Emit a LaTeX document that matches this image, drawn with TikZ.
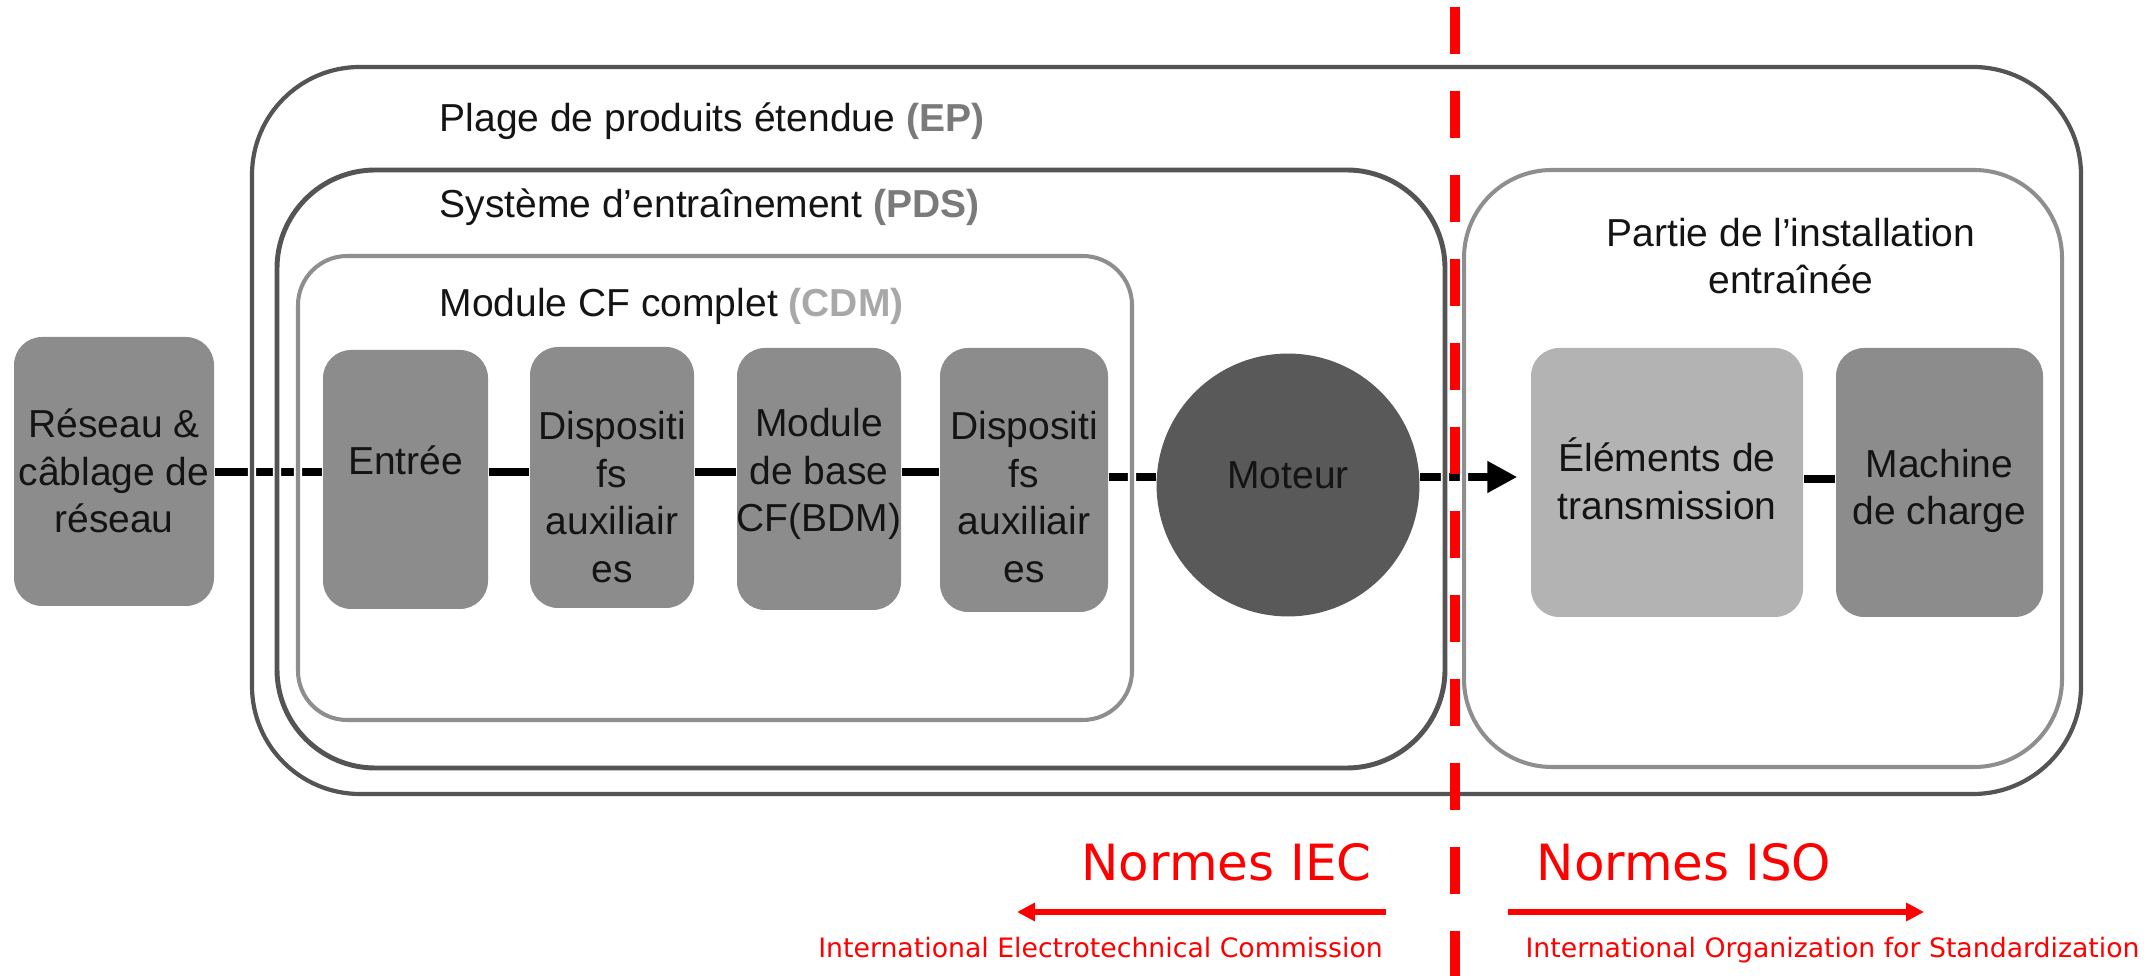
\documentclass[tikz,border=0pt]{standalone}
\usepackage{fontspec}
\setmainfont{Liberation Sans}
\newfontfamily\redfont{DejaVu Sans}
\usetikzlibrary{fit,arrows.meta}
\pgfdeclarelayer{lines}
\pgfdeclarelayer{frames}
\pgfdeclarelayer{fg}
\pgfsetlayers{lines,frames,main,fg}
\definecolor{boxgray}{HTML}{8C8C8C}
\definecolor{lightbox}{HTML}{B3B3B3}
\definecolor{motgray}{HTML}{595959}
\definecolor{darkframe}{HTML}{545454}
\definecolor{lightframe}{HTML}{8E8E8E}
\definecolor{tagdark}{HTML}{7A7A7A}
\definecolor{taglight}{HTML}{A8A8A8}
\definecolor{txtblack}{HTML}{141414}
\definecolor{redline}{HTML}{FF0000}
\begin{document}
\begin{tikzpicture}[x=0.1mm,y=-0.1mm,
  font=\fontsize{11.1pt}{13.5pt}\selectfont,
  box/.style={inner sep=0pt, fill=boxgray, rounded corners=8pt},
  txt/.style={inner sep=0pt, align=center, text=txtblack},
  lbl/.style={inner sep=0pt, anchor=base west, text=txtblack},
  frameD/.style={inner sep=0pt, draw=darkframe, line width=1.2pt, preaction={draw=white, line width=2.3pt}},
  frameL/.style={inner sep=0pt, draw=lightframe, line width=1.15pt, preaction={draw=white, line width=2.3pt}},
  conn/.style={line width=2.3pt, black},
  redtxt/.style={inner sep=0pt, anchor=base, text=redline},
  redarrow/.style={draw=redline, line width=1.7pt, -{Triangle[length=5.1pt,width=5pt]}}
]
\useasboundingbox (0,0) rectangle (2146,976);

% boxes
\node[box, fit={(14,337) (214,606)}] (res) {};
\node[box, fit={(323,350) (488,609)}] (ent) {};
\node[box, fit={(530,347) (694,608)}] (d1) {};
\node[box, fit={(737,348) (901,610)}] (bdm) {};
\node[box, fit={(940,348) (1108,612)}] (d2) {};
\node[circle, fill=motgray, inner sep=0pt, minimum size=74.8pt] (mot) at (1288,485) {};
\node[box, fill=lightbox, fit={(1531,348) (1803,617)}] (elem) {};
\node[box, fit={(1836,348) (2043,617)}] (mach) {};

% box texts
\node[txt] (res-t) at (114,471) {Réseau \&\\câblage de\\réseau};
\node[txt] (ent-t) at (405.5,460.5) {Entrée};
\node[txt] (d1-t) at (612,497) {Dispositi\\fs\\auxiliair\\es};
\node[txt] (bdm-t) at (819,474) {Module\\de base\\CF(BDM)};
\node[txt] (d2-t) at (1024,497) {Dispositi\\fs\\auxiliair\\es};
\node[txt] (mot-t) at (1288,475) {Moteur};
\node[txt] (elem-t) at (1667,479) {Éléments de\\transmission};
\node[txt] (mach-t) at (1939.5,491) {Machine\\de charge};

% frame labels
\node[lbl] (ep-l) at (439,132) {Plage de produits étendue {\bfseries\color{tagdark}(EP)}};
\node[lbl] (pds-l) at (439,218) {Système d’entraînement {\bfseries\color{tagdark}(PDS)}};
\node[lbl] (cdm-l) at (439,317) {Module CF complet {\bfseries\color{taglight}(CDM)}};
\node[txt] (plant-l) at (1791,256) {Partie de l’installation\\entraînée};

% frames
\begin{pgfonlayer}{frames}
\node[frameD, rounded corners=30.7pt, fit={(252,67) (2081,794)}] (ep) {};
\node[frameD, line width=1.4pt, rounded corners=28pt, fit={(277,170) (1445,768)}] (pds) {};
\node[frameL, rounded corners=14pt, fit={(298,256) (1132,720)}] (cdm) {};
\node[frameL, rounded corners=25pt, fit={(1464,170) (2062,767)}] (plant) {};
\end{pgfonlayer}

% connectors
\coordinate (yL) at (0,472);
\coordinate (yR) at (0,477);
\coordinate (yM) at (0,479);
\begin{pgfonlayer}{lines}
\draw[conn] (res.east |- yL) -- (ent.west |- yL);
\draw[conn] (ent.east |- yL) -- (d1.west |- yL);
\draw[conn] (d1.east |- yL) -- (bdm.west |- yL);
\draw[conn] (bdm.east |- yL) -- (d2.west |- yL);
\draw[conn] (d2.east |- yR) -- (mot.west |- yR);
\draw[conn, -{Triangle[length=8.5pt,width=8.5pt]}, shorten >=3.7pt] (mot.east |- yR) -- (elem.west |- yR);
\draw[conn] (elem.east |- yM) -- (mach.west |- yM);
\end{pgfonlayer}

% red divider and norms
\coordinate (divtop) at (1455,7);
\coordinate (divbot) at (1455,976);
\coordinate (iecS) at (1386,912);
\coordinate (iecE) at (1017,912);
\coordinate (isoS) at (1508,912);
\coordinate (isoE) at (1924,912);
\begin{pgfonlayer}{fg}
\draw[draw=redline, line width=3.1pt, dash pattern=on 13.37pt off 10.53pt] (divtop) -- (divbot);
\end{pgfonlayer}
\draw[redarrow] (iecS) -- (iecE);
\draw[redarrow] (isoS) -- (isoE);
\node[redtxt, font=\redfont\fontsize{14.2pt}{17pt}\selectfont] (iec) at (1226.5,881) {Normes IEC};
\node[redtxt, font=\redfont\fontsize{14.2pt}{17pt}\selectfont] (iso) at (1684,881) {Normes ISO};
\node[redtxt, font=\redfont\fontsize{7.6pt}{9pt}\selectfont] (iec-s) at (1100.5,958) {International Electrotechnical Commission};
\node[redtxt, font=\redfont\fontsize{7.6pt}{9pt}\selectfont] (iso-s) at (1832.5,958) {International Organization for Standardization};
\end{tikzpicture}
\end{document}
